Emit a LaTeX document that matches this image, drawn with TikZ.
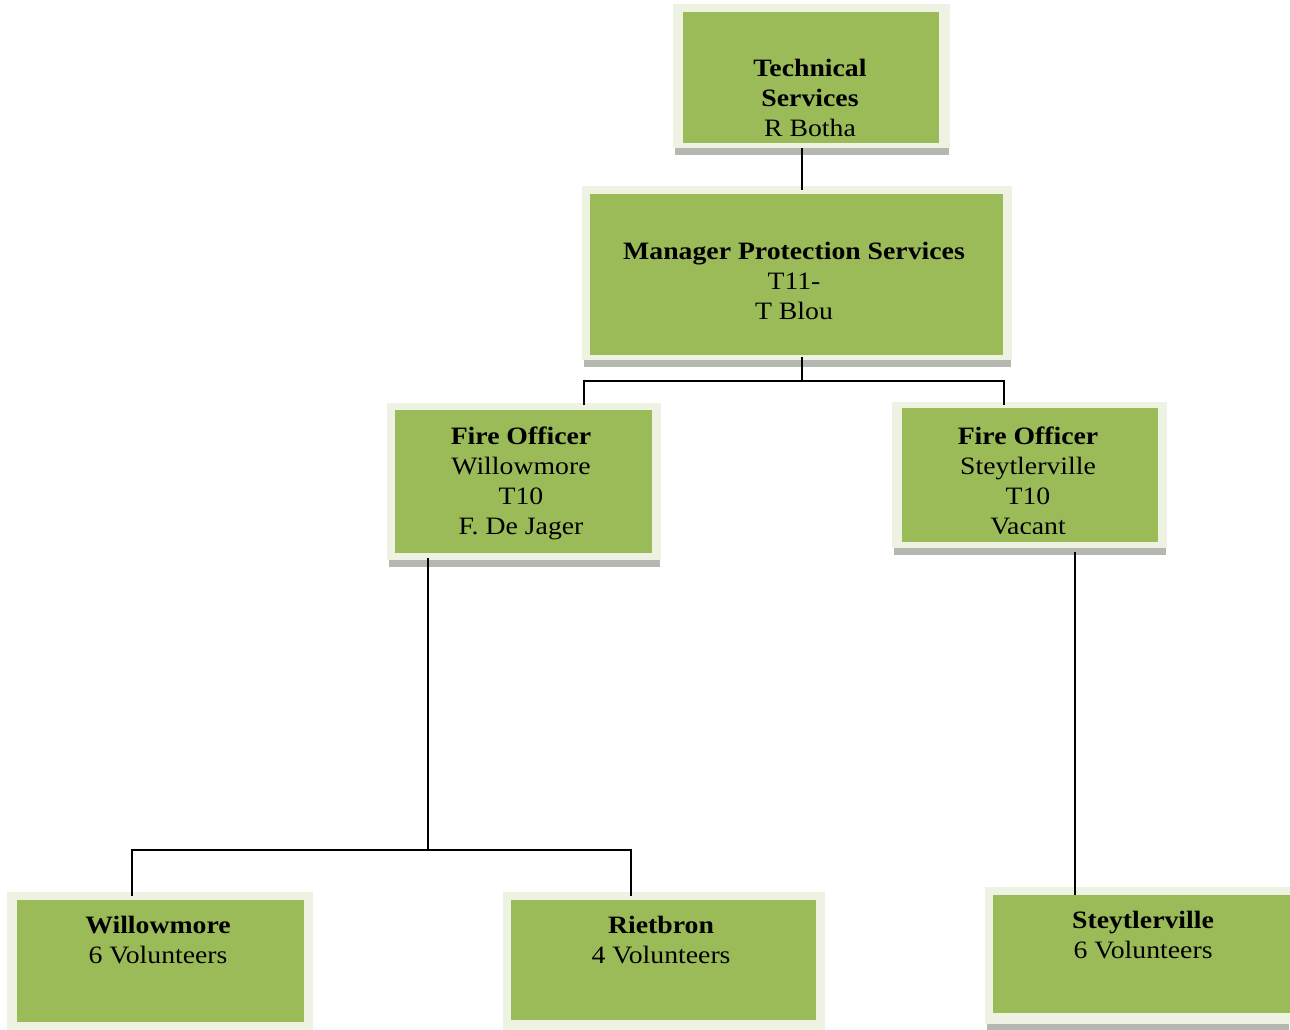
\documentclass[tikz,border=0pt]{standalone}
\usepackage{fontspec}
\setmainfont[FakeStretch=1.11]{Liberation Serif}
\definecolor{boxgreen}{HTML}{9BBB59}
\definecolor{framecol}{HTML}{EEF2E2}
\definecolor{shadowcol}{HTML}{B4B8B0}
\tikzset{
  framebox/.style={fill=framecol, draw=none},
  shadowbox/.style={fill=shadowcol, draw=none},
  gbox/.style={fill=boxgreen, draw=none},
  lbl/.style={align=center, inner sep=0pt, anchor=north, text=black,
    font=\fontsize{25}{30}\selectfont},
  conn/.style={draw=black, line width=1.5pt}
}
\newcommand{\orgbox}[5]{%
  % #1 name, #2 outer (x1,y1) #3 outer (x2,y2), #4 inner (x1,y1), #5 inner (x2,y2)
  \fill[shadowbox] ($#2+(2,0)$) rectangle ($#3+(-1,7)$);
  \fill[framebox] #2 rectangle #3;
  \path[gbox] #4 rectangle #5;
  \coordinate (#1-nw) at #4;
  \coordinate (#1-se) at #5;
}
\usetikzlibrary{calc}
\begin{document}
\begin{tikzpicture}[x=1pt,y=-1pt]
\useasboundingbox (0,0) rectangle (1290,1030);

% boxes
\orgbox{ts}{(673,4)}{(950,148)}{(683,12)}{(939,143)}
\orgbox{mgr}{(582,186)}{(1012,360)}{(590,194)}{(1003,355)}
\orgbox{fow}{(387,403)}{(661,560)}{(395,410)}{(652,553)}
\orgbox{fos}{(892,402)}{(1167,548)}{(902,408)}{(1158,542)}
\orgbox{wil}{(7,892)}{(313,1030)}{(17,900)}{(304,1022)}
\orgbox{rie}{(503,892)}{(825,1030)}{(511,900)}{(816,1020)}
\orgbox{ste}{(985,887)}{(1290,1024)}{(993,895)}{(1290,1013)}

% texts (clipped to the text area)
\begin{scope}\clip (ts-nw) rectangle ($(ts-se)+(0,-5)$);
\node[lbl] (tstext) at (810,59) {\textbf{Technical}\\\textbf{Services}\\R Botha};
\end{scope}
\begin{scope}\clip (mgr-nw) rectangle (mgr-se);
\node[lbl] (mgrtext) at (794,242) {\textbf{Manager Protection Services}\\T11-\\T Blou};
\end{scope}
\begin{scope}\clip (fow-nw) rectangle (fow-se);
\node[lbl] (fowtext) at (521,427) {\textbf{Fire Officer}\\Willowmore\\T10\\F. De Jager};
\end{scope}
\begin{scope}\clip (fos-nw) rectangle ($(fos-se)+(0,-9)$);
\node[lbl] (fostext) at (1028,427) {\textbf{Fire Officer}\\Steytlerville\\T10\\Vacant};
\end{scope}
\node[lbl] (wiltext) at (158,916) {\textbf{Willowmore}\\6 Volunteers};
\node[lbl] (rietext) at (661,916) {\textbf{Rietbron}\\4 Volunteers};
\node[lbl] (stetext) at (1143,911) {\textbf{Steytlerville}\\6 Volunteers};

% connector anchor points
\coordinate (c1a) at (802,148);
\coordinate (c1b) at (802,190);
\coordinate (c2a) at (802,357);
\coordinate (c2b) at (802,381);
\coordinate (c2l) at (584,381);
\coordinate (c2r) at (1004,381);
\coordinate (c2ld) at (584,405);
\coordinate (c2rd) at (1004,405);
\coordinate (c3a) at (428,558);
\coordinate (c3b) at (428,850);
\coordinate (c3l) at (132,850);
\coordinate (c3r) at (631,850);
\coordinate (c3ld) at (132,896);
\coordinate (c3rd) at (631,896);
\coordinate (c4a) at (1075,552);
\coordinate (c4b) at (1075,895);

\draw[conn] (c1a) -- (c1b);
\draw[conn] (c2a) -- (c2b);
\draw[conn] (c2ld) -- (c2l) -- (c2r) -- (c2rd);
\draw[conn] (c3a) -- (c3b);
\draw[conn] (c3ld) -- (c3l) -- (c3r) -- (c3rd);
\draw[conn] (c4a) -- (c4b);
\end{tikzpicture}
\end{document}
